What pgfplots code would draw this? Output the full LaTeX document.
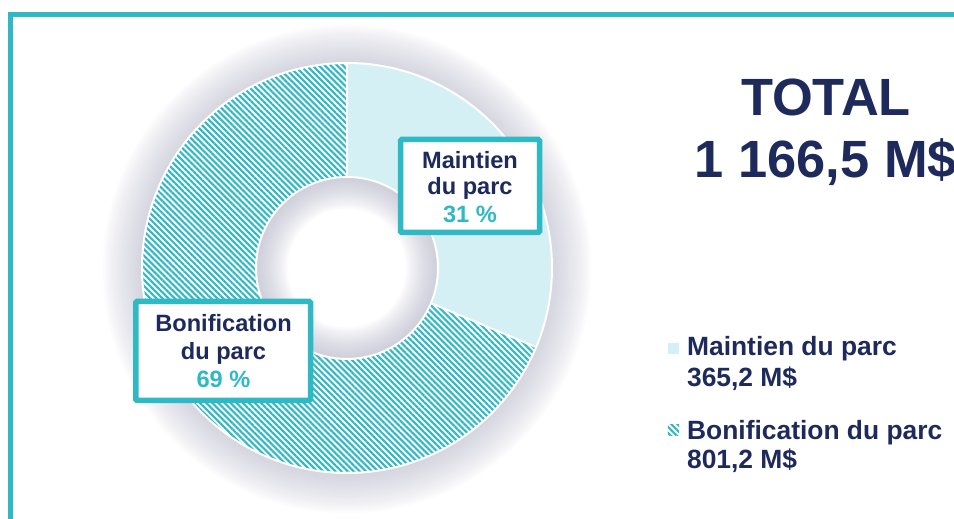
\documentclass[border=0pt]{standalone}
\usepackage{pgfplots}
\pgfplotsset{compat=1.18}
\usepackage{pgfplotstable}
\usepackage{fontspec}
\setmainfont{Liberation Sans}
\usetikzlibrary{patterns.meta}
\definecolor{tealc}{HTML}{2FB9C4}
\definecolor{lightc}{HTML}{D4F0F4}
\definecolor{navy}{HTML}{1E2A5C}
\definecolor{shadowc}{HTML}{B4B4C8}

\pgfplotstableread{
label value
Maintien 365.2
Bonification 801.2
}\datatable
\pgfplotstablegetelem{0}{value}\of\datatable\let\va\pgfplotsretval
\pgfplotstablegetelem{1}{value}\of\datatable\let\vb\pgfplotsretval
\pgfmathsetmacro{\fa}{\va/(\va+\vb)}
\pgfmathsetmacro{\fb}{\vb/(\va+\vb)}
\pgfmathsetmacro{\aA}{90}
\pgfmathsetmacro{\aB}{90-360*\fa}
\pgfmathsetmacro{\aC}{\aB-360*\fb}

\tikzset{hatch/.style={pattern={Lines[angle=-45,distance=2.15pt,line width=1.05pt]},pattern color=tealc},
         hatchleg/.style={pattern={Lines[angle=-45,distance=2.15pt,line width=1.05pt]},pattern color=tealc}}

\begin{document}
\begin{tikzpicture}[x=0.5pt,y=0.5pt]
% outer shadow
\foreach \d in {1,...,40} {
  \fill[shadowc, opacity=0.019, even odd rule] (347,250) circle[radius=205+\d] circle[radius=91];
}
% inner shadow
\foreach \d in {1,...,32} {
  \fill[shadowc, opacity=0.03, even odd rule] (347,251) circle[radius=91] circle[radius=91-\d];
}
\begin{axis}[
  x=0.5pt, y=0.5pt,
  xmin=0, xmax=954, ymin=0, ymax=519,
  scale only axis, hide axis, clip mode=global,
  anchor=origin, at={(0,0)},
]
% donut sectors
\begin{scope}[shift={(axis cs:347,251)}]
  \fill[lightc] (\aA:102.5pt) arc[start angle=\aA, end angle=\aB, radius=102.5pt]
     -- (\aB:45.5pt) arc[start angle=\aB, end angle=\aA, radius=45.5pt] -- cycle;
  \fill[white] (\aB:102.5pt) arc[start angle=\aB, end angle=\aC, radius=102.5pt]
     -- (\aC:45.5pt) arc[start angle=\aC, end angle=\aB, radius=45.5pt] -- cycle;
  \fill[hatch] (\aB:102.5pt) arc[start angle=\aB, end angle=\aC, radius=102.5pt]
     -- (\aC:45.5pt) arc[start angle=\aC, end angle=\aB, radius=45.5pt] -- cycle;
  \draw[white, line width=1pt] (\aA:45.5pt) -- (\aA:102.5pt);
  \draw[white, line width=1pt] (\aB:45.5pt) -- (\aB:102.5pt);
  \draw[white, line width=1pt] (0,0) circle[radius=102.5pt];
  \draw[white, line width=1pt] (0,0) circle[radius=45.5pt];
\end{scope}
% frame
\draw[tealc, line width=2.5pt] (axis cs:10.5,-10) -- (axis cs:10.5,504.5) -- (axis cs:970,504.5);
% label boxes
\draw[tealc, line width=2.75pt, fill=white, rounded corners=0.6pt] (axis cs:400.5,286.5) rectangle (axis cs:539.5,379.5);
\draw[tealc, line width=2.75pt, fill=white, rounded corners=0.6pt] (axis cs:135.8,118.5) rectangle (axis cs:310.5,217.5);
\begin{scope}[every node/.style={font=\fontsize{11.8}{13}\selectfont\bfseries, anchor=base, inner sep=0pt}]
  \node[text=navy] at (axis cs:470,350.7) {Maintien};
  \node[text=navy] at (axis cs:470,324) {du parc};
  \node[text=tealc] at (axis cs:470,296.3) {31 \%};
  \node[text=navy] at (axis cs:223.5,187.3) {Bonification};
  \node[text=navy] at (axis cs:223.5,159.7) {du parc};
  \node[text=tealc] at (axis cs:223.5,131.3) {69 \%};
\end{scope}
% total
\begin{scope}[every node/.style={font=\fontsize{26.2}{31}\selectfont\bfseries, anchor=base, inner sep=0pt, text=navy}]
  \node at (axis cs:826,403) {TOTAL};
  \node at (axis cs:826,341) {1 166,5 M\$};
\end{scope}
% legend
\fill[lightc] (axis cs:667.8,165) rectangle (axis cs:679,176.3);
\fill[hatchleg] (axis cs:667.8,83) rectangle (axis cs:679,94);
\begin{scope}[every node/.style={font=\fontsize{13.2}{15}\selectfont\bfseries, anchor=base west, inner sep=0pt, text=navy}]
  \node at (axis cs:686.7,163) {Maintien du parc};
  \node at (axis cs:686.7,132.3) {365,2 M\$};
  \node at (axis cs:686.7,79.7) {Bonification du parc};
  \node at (axis cs:686.7,50.7) {801,2 M\$};
\end{scope}
\end{axis}
\pgfresetboundingbox
\path[use as bounding box] (0,0) rectangle (954,519);
\end{tikzpicture}
\end{document}
